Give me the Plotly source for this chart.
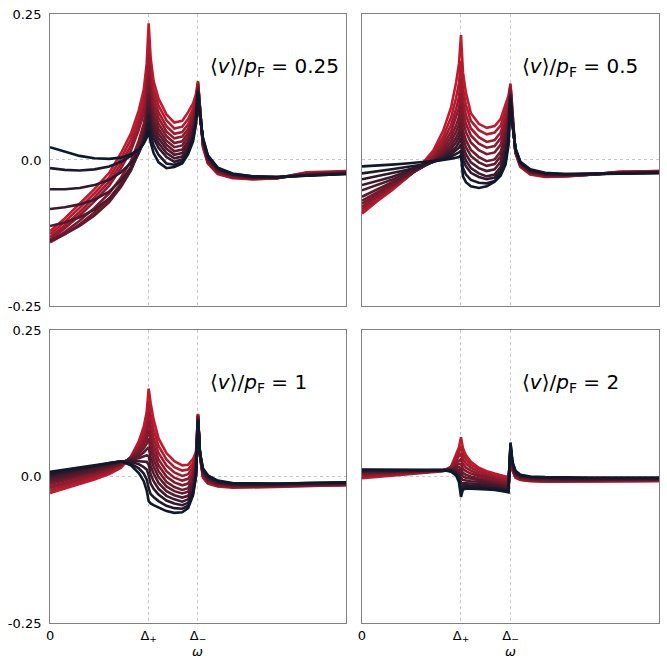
import plotly.graph_objects as go

# frequency grid (Delta_+ = 1, Delta_- = 1.5)
omega = [0, 0.15, 0.3, 0.45, 0.6, 0.72, 0.82, 0.9, 0.95, 0.98, 1.0,
         1.02, 1.05, 1.1, 1.18, 1.26, 1.34, 1.4, 1.45, 1.48, 1.5,
         1.52, 1.55, 1.6, 1.7, 1.85, 2.05, 2.3, 2.6, 3.0]

x_tick_vals = [0, 1.0, 1.5]
x_tick_text = ["0", "Δ<sub>+</sub>", "Δ<sub>−</sub>"]
y_tick_vals = [-0.25, 0.0, 0.25]
y_tick_text = ["-0.25", "0.0", "0.25"]

panel_labels = ["0.25", "0.5", "1", "2"]

# <v>/pF = 0.25 (curves ordered red -> navy)
curves_v025 = [
    [-0.122,-0.100,-0.075,-0.050,-0.022,0.012,0.045,0.085,0.120,0.165,0.234, 0.175,0.135,0.105,0.078,0.064,0.067,0.082,0.097,0.113,0.135, 0.085,0.022,-0.006,-0.024,-0.031,-0.033,-0.031,-0.021,-0.019],
    [-0.127,-0.106,-0.082,-0.057,-0.030,0.003,0.035,0.073,0.105,0.145,0.205, 0.155,0.120,0.093,0.068,0.054,0.057,0.070,0.088,0.106,0.133, 0.084,0.024,-0.005,-0.023,-0.030,-0.033,-0.031,-0.022,-0.020],
    [-0.132,-0.112,-0.089,-0.064,-0.037,-0.006,0.025,0.062,0.092,0.128,0.180, 0.138,0.107,0.082,0.058,0.045,0.048,0.061,0.080,0.100,0.131, 0.083,0.026,-0.004,-0.022,-0.029,-0.032,-0.031,-0.023,-0.020],
    [-0.136,-0.117,-0.095,-0.071,-0.044,-0.014,0.016,0.052,0.080,0.113,0.160, 0.122,0.095,0.072,0.049,0.037,0.040,0.053,0.073,0.094,0.129, 0.082,0.027,-0.003,-0.021,-0.028,-0.032,-0.031,-0.024,-0.021],
    [-0.139,-0.123,-0.104,-0.082,-0.057,-0.030,-0.002,0.033,0.062,0.094,0.142, 0.108,0.084,0.062,0.041,0.029,0.032,0.046,0.066,0.089,0.127, 0.081,0.029,-0.002,-0.020,-0.028,-0.031,-0.030,-0.024,-0.021],
    [-0.141,-0.127,-0.110,-0.090,-0.066,-0.040,-0.012,0.023,0.052,0.083,0.127, 0.096,0.074,0.053,0.033,0.022,0.025,0.039,0.060,0.084,0.125, 0.080,0.030,0.000,-0.019,-0.027,-0.031,-0.030,-0.025,-0.022],
    [-0.138,-0.127,-0.113,-0.095,-0.072,-0.046,-0.018,0.016,0.044,0.074,0.114, 0.085,0.064,0.045,0.026,0.015,0.018,0.032,0.054,0.080,0.123, 0.079,0.032,0.001,-0.018,-0.026,-0.030,-0.030,-0.025,-0.022],
    [-0.113,-0.107,-0.098,-0.085,-0.066,-0.043,-0.017,0.013,0.038,0.065,0.102, 0.075,0.055,0.037,0.019,0.009,0.012,0.027,0.049,0.076,0.121, 0.078,0.033,0.003,-0.017,-0.026,-0.030,-0.030,-0.026,-0.023],
    [-0.084,-0.081,-0.076,-0.068,-0.054,-0.035,-0.013,0.012,0.033,0.058,0.090, 0.065,0.046,0.029,0.012,0.003,0.006,0.021,0.044,0.072,0.119, 0.077,0.034,0.004,-0.016,-0.025,-0.029,-0.030,-0.026,-0.023],
    [-0.050,-0.050,-0.048,-0.043,-0.034,-0.021,-0.005,0.013,0.030,0.050,0.078, 0.055,0.037,0.021,0.005,-0.003,0.001,0.016,0.040,0.069,0.118, 0.076,0.035,0.005,-0.015,-0.024,-0.029,-0.029,-0.026,-0.023],
    [-0.014,-0.017,-0.018,-0.016,-0.011,-0.003,0.007,0.018,0.030,0.044,0.064, 0.043,0.025,0.009,-0.006,-0.008,-0.003,0.013,0.036,0.065,0.116, 0.076,0.037,0.007,-0.014,-0.024,-0.028,-0.029,-0.027,-0.024],
    [0.022,0.014,0.007,0.003,0.002,0.004,0.010,0.018,0.028,0.038,0.050, 0.030,0.012,-0.004,-0.014,-0.012,-0.006,0.010,0.032,0.062,0.114, 0.075,0.038,0.008,-0.013,-0.023,-0.028,-0.029,-0.027,-0.024],
]

# <v>/pF = 0.5
curves_v05 = [
    [-0.092,-0.071,-0.052,-0.031,-0.008,0.016,0.050,0.090,0.132,0.165,0.214, 0.150,0.115,0.080,0.062,0.055,0.058,0.070,0.095,0.110,0.131, 0.075,0.012,-0.012,-0.025,-0.029,-0.028,-0.025,-0.020,-0.019],
    [-0.088,-0.069,-0.050,-0.031,-0.010,0.011,0.040,0.073,0.106,0.132,0.170, 0.122,0.094,0.067,0.051,0.044,0.047,0.059,0.084,0.101,0.128, 0.074,0.013,-0.011,-0.024,-0.028,-0.028,-0.025,-0.020,-0.019],
    [-0.084,-0.066,-0.048,-0.030,-0.011,0.007,0.032,0.060,0.087,0.108,0.140, 0.100,0.077,0.054,0.039,0.031,0.034,0.047,0.073,0.093,0.126, 0.073,0.013,-0.010,-0.023,-0.028,-0.027,-0.025,-0.021,-0.020],
    [-0.080,-0.063,-0.046,-0.029,-0.012,0.004,0.025,0.049,0.072,0.089,0.115, 0.082,0.062,0.042,0.028,0.021,0.024,0.037,0.063,0.085,0.123, 0.071,0.014,-0.009,-0.022,-0.027,-0.027,-0.025,-0.021,-0.020],
    [-0.075,-0.060,-0.044,-0.028,-0.013,0.001,0.019,0.040,0.059,0.074,0.095, 0.066,0.048,0.030,0.017,0.010,0.013,0.026,0.053,0.078,0.121, 0.070,0.015,-0.009,-0.021,-0.026,-0.026,-0.025,-0.021,-0.020],
    [-0.070,-0.056,-0.042,-0.027,-0.013,-0.001,0.014,0.032,0.048,0.061,0.078, 0.050,0.034,0.017,0.005,-0.002,0.001,0.014,0.042,0.070,0.118, 0.069,0.016,-0.008,-0.021,-0.026,-0.026,-0.025,-0.022,-0.021],
    [-0.063,-0.051,-0.039,-0.026,-0.013,-0.002,0.010,0.025,0.038,0.049,0.063, 0.037,0.022,0.007,-0.004,-0.010,-0.007,0.006,0.034,0.064,0.116, 0.067,0.016,-0.007,-0.020,-0.025,-0.026,-0.025,-0.022,-0.021],
    [-0.052,-0.043,-0.034,-0.023,-0.012,-0.003,0.007,0.019,0.030,0.039,0.050, 0.024,0.010,-0.004,-0.014,-0.019,-0.016,-0.003,0.025,0.057,0.113, 0.066,0.017,-0.006,-0.019,-0.024,-0.025,-0.024,-0.022,-0.021],
    [-0.043,-0.036,-0.029,-0.020,-0.011,-0.003,0.005,0.014,0.022,0.030,0.038, 0.012,-0.001,-0.014,-0.023,-0.028,-0.025,-0.012,0.016,0.049,0.111, 0.065,0.018,-0.005,-0.018,-0.024,-0.025,-0.024,-0.022,-0.021],
    [-0.033,-0.028,-0.023,-0.017,-0.010,-0.003,0.003,0.010,0.016,0.021,0.027, 0.000,-0.011,-0.022,-0.029,-0.033,-0.030,-0.018,0.008,0.042,0.108, 0.063,0.019,-0.005,-0.018,-0.023,-0.025,-0.024,-0.023,-0.022],
    [-0.023,-0.020,-0.016,-0.012,-0.008,-0.003,0.001,0.006,0.010,0.013,0.016, -0.014,-0.025,-0.034,-0.039,-0.040,-0.036,-0.023,0.000,0.034,0.106, 0.062,0.019,-0.004,-0.017,-0.023,-0.024,-0.024,-0.023,-0.022],
    [-0.011,-0.010,-0.008,-0.006,-0.004,-0.002,0.000,0.002,0.004,0.005,0.008, -0.028,-0.038,-0.045,-0.048,-0.045,-0.037,-0.027,-0.008,0.025,0.103, 0.060,0.020,-0.003,-0.016,-0.022,-0.024,-0.024,-0.023,-0.022],
]

# <v>/pF = 1
curves_v1 = [
    [-0.028,-0.021,-0.013,-0.005,0.004,0.015,0.034,0.060,0.085,0.110,0.150, 0.125,0.097,0.065,0.040,0.026,0.019,0.020,0.030,0.042,0.107, 0.035,-0.002,-0.012,-0.017,-0.019,-0.019,-0.018,-0.016,-0.015],
    [-0.024,-0.017,-0.010,-0.002,0.007,0.017,0.033,0.055,0.076,0.096,0.128, 0.105,0.080,0.052,0.029,0.016,0.010,0.012,0.023,0.037,0.106, 0.035,0.000,-0.011,-0.016,-0.018,-0.018,-0.017,-0.016,-0.015],
    [-0.020,-0.014,-0.007,0.001,0.009,0.019,0.033,0.051,0.068,0.085,0.110, 0.088,0.066,0.040,0.019,0.007,0.001,0.004,0.016,0.032,0.105, 0.036,0.001,-0.010,-0.015,-0.018,-0.018,-0.017,-0.015,-0.014],
    [-0.017,-0.011,-0.004,0.003,0.011,0.020,0.032,0.047,0.061,0.075,0.094, 0.073,0.053,0.029,0.009,-0.002,-0.007,-0.004,0.009,0.027,0.104, 0.036,0.003,-0.009,-0.015,-0.017,-0.017,-0.016,-0.015,-0.014],
    [-0.013,-0.007,-0.001,0.006,0.013,0.021,0.032,0.043,0.055,0.066,0.079, 0.059,0.041,0.019,0.000,-0.010,-0.015,-0.012,0.002,0.022,0.103, 0.037,0.004,-0.008,-0.014,-0.016,-0.017,-0.016,-0.014,-0.013],
    [-0.010,-0.004,0.002,0.008,0.015,0.022,0.031,0.039,0.048,0.056,0.065, 0.046,0.029,0.009,-0.009,-0.018,-0.023,-0.020,-0.005,0.018,0.102, 0.037,0.006,-0.006,-0.013,-0.016,-0.016,-0.015,-0.014,-0.013],
    [-0.007,-0.002,0.004,0.010,0.017,0.023,0.030,0.035,0.041,0.046,0.050, 0.032,0.017,-0.001,-0.017,-0.025,-0.029,-0.026,-0.011,0.014,0.100, 0.038,0.007,-0.005,-0.012,-0.015,-0.015,-0.015,-0.013,-0.012],
    [-0.004,0.001,0.007,0.012,0.019,0.024,0.029,0.031,0.034,0.036,0.035, 0.018,0.005,-0.011,-0.025,-0.032,-0.036,-0.033,-0.017,0.010,0.099, 0.038,0.008,-0.004,-0.011,-0.014,-0.015,-0.014,-0.013,-0.012],
    [-0.001,0.004,0.009,0.014,0.020,0.025,0.027,0.026,0.026,0.025,0.020, 0.004,-0.008,-0.021,-0.033,-0.039,-0.043,-0.039,-0.022,0.007,0.098, 0.039,0.010,-0.002,-0.010,-0.013,-0.014,-0.014,-0.012,-0.011],
    [0.002,0.007,0.011,0.016,0.022,0.026,0.025,0.021,0.016,0.012,0.002, -0.012,-0.021,-0.031,-0.041,-0.046,-0.049,-0.045,-0.026,0.004,0.097, 0.039,0.011,-0.001,-0.009,-0.013,-0.013,-0.013,-0.012,-0.011],
    [0.005,0.009,0.013,0.018,0.023,0.026,0.022,0.014,0.005,-0.005,-0.020, -0.030,-0.035,-0.042,-0.050,-0.054,-0.055,-0.050,-0.029,0.002,0.096, 0.040,0.013,0.001,-0.008,-0.012,-0.013,-0.013,-0.011,-0.010],
    [0.008,0.012,0.016,0.020,0.024,0.026,0.019,0.006,-0.008,-0.024,-0.042, -0.046,-0.049,-0.053,-0.059,-0.062,-0.061,-0.054,-0.032,0.000,0.095, 0.040,0.014,0.002,-0.007,-0.011,-0.012,-0.012,-0.011,-0.010],
]

# <v>/pF = 2
curves_v2 = [
    [-0.003,-0.001,0.001,0.003,0.005,0.007,0.009,0.017,0.036,0.050,0.067, 0.048,0.036,0.025,0.015,0.009,0.005,0.002,0.000,0.000,0.035, 0.010,-0.002,-0.006,-0.008,-0.009,-0.009,-0.009,-0.008,-0.008],
    [-0.001,0.001,0.002,0.004,0.006,0.008,0.010,0.016,0.031,0.042,0.052, 0.038,0.029,0.020,0.012,0.006,0.002,-0.001,-0.003,-0.003,0.037, 0.011,-0.001,-0.005,-0.007,-0.008,-0.008,-0.008,-0.007,-0.007],
    [0.001,0.002,0.003,0.005,0.007,0.008,0.010,0.015,0.027,0.035,0.040, 0.029,0.022,0.015,0.008,0.003,-0.001,-0.004,-0.006,-0.006,0.039, 0.013,0.000,-0.005,-0.007,-0.008,-0.008,-0.008,-0.007,-0.007],
    [0.003,0.004,0.005,0.006,0.007,0.009,0.010,0.014,0.023,0.028,0.030, 0.021,0.015,0.010,0.004,0.000,-0.004,-0.007,-0.009,-0.009,0.041, 0.014,0.001,-0.004,-0.006,-0.007,-0.007,-0.007,-0.006,-0.006],
    [0.004,0.005,0.006,0.007,0.008,0.009,0.010,0.013,0.019,0.022,0.021, 0.013,0.009,0.005,0.001,-0.003,-0.007,-0.009,-0.011,-0.012,0.043, 0.015,0.002,-0.003,-0.005,-0.006,-0.007,-0.007,-0.006,-0.006],
    [0.006,0.006,0.007,0.008,0.009,0.010,0.011,0.013,0.016,0.016,0.013, 0.006,0.003,0.000,-0.003,-0.006,-0.009,-0.012,-0.014,-0.015,0.045, 0.017,0.003,-0.002,-0.004,-0.005,-0.006,-0.006,-0.005,-0.005],
    [0.007,0.007,0.008,0.009,0.009,0.010,0.011,0.012,0.013,0.011,0.005, 0.000,-0.002,-0.004,-0.006,-0.009,-0.012,-0.014,-0.016,-0.017,0.047, 0.018,0.004,-0.001,-0.004,-0.005,-0.005,-0.005,-0.005,-0.005],
    [0.008,0.008,0.009,0.009,0.010,0.010,0.011,0.011,0.010,0.006,-0.003, -0.006,-0.007,-0.008,-0.009,-0.011,-0.014,-0.016,-0.018,-0.019,0.049, 0.019,0.005,0.000,-0.003,-0.004,-0.005,-0.005,-0.004,-0.004],
    [0.009,0.009,0.010,0.010,0.010,0.011,0.011,0.011,0.008,0.002,-0.011, -0.011,-0.011,-0.012,-0.013,-0.014,-0.016,-0.018,-0.020,-0.021,0.051, 0.021,0.006,0.001,-0.002,-0.003,-0.004,-0.004,-0.004,-0.004],
    [0.010,0.010,0.011,0.011,0.011,0.011,0.011,0.010,0.006,-0.002,-0.019, -0.015,-0.015,-0.015,-0.016,-0.017,-0.019,-0.020,-0.022,-0.023,0.053, 0.022,0.007,0.001,-0.001,-0.002,-0.003,-0.003,-0.003,-0.003],
    [0.011,0.011,0.011,0.011,0.011,0.011,0.011,0.009,0.004,-0.006,-0.027, -0.019,-0.018,-0.018,-0.019,-0.019,-0.021,-0.022,-0.024,-0.025,0.056, 0.024,0.009,0.002,-0.001,-0.002,-0.003,-0.003,-0.003,-0.003],
    [0.012,0.012,0.012,0.012,0.012,0.012,0.011,0.008,0.002,-0.010,-0.035, -0.022,-0.021,-0.021,-0.021,-0.022,-0.023,-0.024,-0.026,-0.027,0.058, 0.025,0.010,0.003,0.000,-0.001,-0.002,-0.002,-0.002,-0.002],
]

panels = [curves_v025, curves_v05, curves_v1, curves_v2]

RED = (192, 27, 45)
NAVY = (14, 25, 44)
FONT = "DejaVu Sans"

x_domains = [[0.0750, 0.5187], [0.5427, 0.9880], [0.0750, 0.5187], [0.5427, 0.9880]]
y_domains = [[0.5350, 0.9787], [0.5350, 0.9787], [0.0532, 0.4985], [0.0532, 0.4985]]

fig = go.Figure()
for k, curves in enumerate(panels):
    n = len(curves)
    xa = "x" if k == 0 else f"x{k+1}"
    ya = "y" if k == 0 else f"y{k+1}"
    for i, ys in enumerate(curves):
        f = i / (n - 1)
        c = tuple(round(RED[j] + (NAVY[j] - RED[j]) * f) for j in range(3))
        fig.add_trace(go.Scatter(
            x=omega, y=ys, mode="lines",
            line=dict(color=f"rgb{c}", width=2.6),
            xaxis=xa, yaxis=ya, showlegend=False, hoverinfo="skip"))

layout = dict(template="none", width=667, height=658,
              margin=dict(l=0, r=0, t=0, b=0, pad=0),
              paper_bgcolor="white", plot_bgcolor="white",
              font=dict(family=FONT, size=13, color="black"))
annotations = []
for k in range(4):
    sx = "" if k == 0 else str(k + 1)
    bottom = k >= 2
    left = k % 2 == 0
    layout[f"xaxis{sx}"] = dict(
        domain=x_domains[k], anchor=f"y{sx}", range=[0, 3.0], automargin=False,
        tickmode="array", tickvals=x_tick_vals, ticktext=x_tick_text,
        showticklabels=bottom, ticks="", ticklen=0,
        showgrid=True, gridcolor="#c8c8c8", griddash="dot", gridwidth=0.8,
        zeroline=False, showline=True, linecolor="#808080", linewidth=1,
        mirror=True, tickfont=dict(size=13, family=FONT, color="black"))
    layout[f"yaxis{sx}"] = dict(
        domain=y_domains[k], anchor=f"x{sx}", range=[-0.25, 0.25], automargin=False,
        tickmode="array", tickvals=y_tick_vals, ticktext=y_tick_text,
        showticklabels=left, ticks="outside", ticklen=5,
        tickcolor="rgba(0,0,0,0)",
        showgrid=True, gridcolor="#c8c8c8", griddash="dot", gridwidth=0.8,
        zeroline=False, showline=True, linecolor="#808080", linewidth=1,
        mirror=True, tickfont=dict(size=13, family=FONT, color="black"))
    annotations.append(dict(
        x=1.6, y=0.16, xref=f"x{sx}", yref=f"y{sx}",
        text=f"⟨<i>v</i>⟩/<i>p</i><sub>F</sub> = {panel_labels[k]}",
        showarrow=False, xanchor="left", yanchor="middle",
        font=dict(size=20, family=FONT, color="black")))
    if bottom:
        annotations.append(dict(
            x=0.5, y=(658 - 651) / 658, xref=f"x{sx} domain", yref="paper",
            text="<i>ω</i>", showarrow=False, xanchor="center", yanchor="middle",
            font=dict(size=13, family=FONT, color="black")))
layout["annotations"] = annotations
fig.update_layout(**layout)

fig.write_html("out.html", config={"displayModeBar": False},
               post_script="document.body.style.margin='0';document.body.style.padding='0';document.body.style.overflow='hidden';")
